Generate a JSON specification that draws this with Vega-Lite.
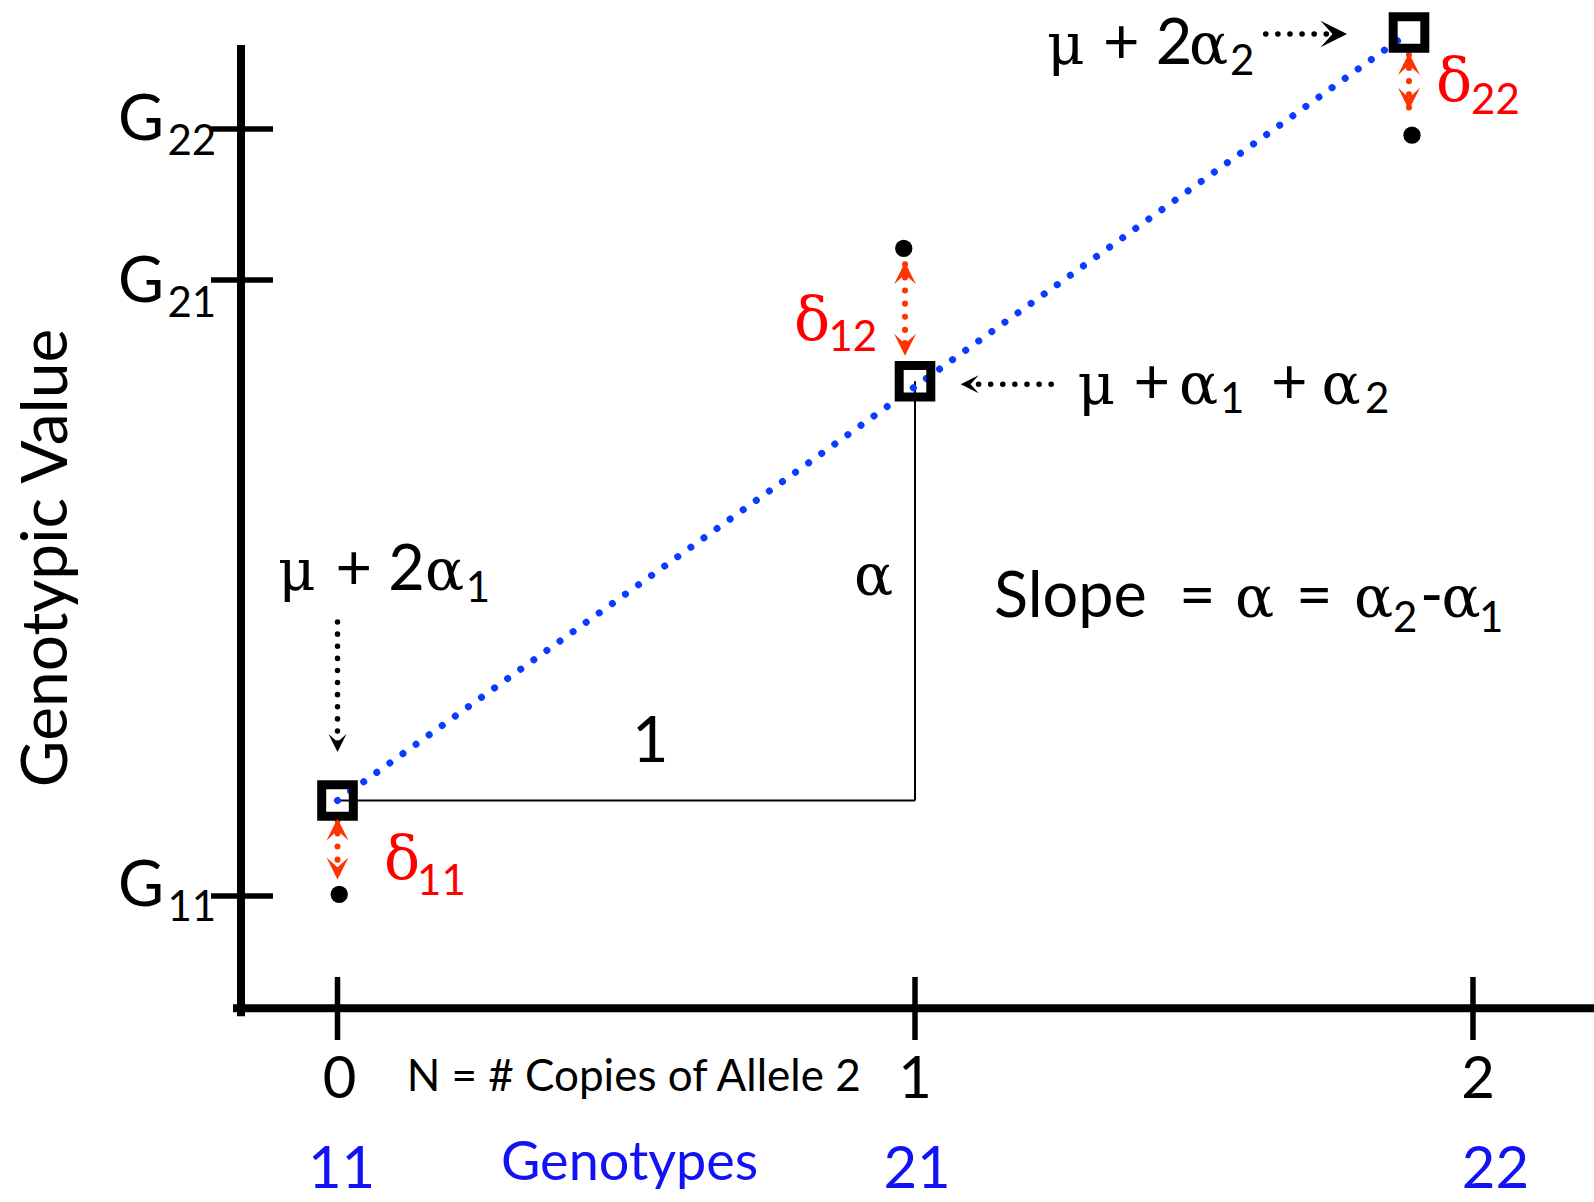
{
  "$schema": "https://vega.github.io/schema/vega-lite/v6.json",
  "width": 1594,
  "height": 1202,
  "autosize": {"type": "none"},
  "padding": 0,
  "background": "white",
  "config": {"view": {"stroke": null}},
  "datasets": {
    "axes": [
      {"x": -0.1671, "y": 9.593, "x2": -0.1671, "y2": -0.04},
      {"x": -0.174, "y": 0, "x2": 2.1758, "y2": 0}
    ],
    "ticks": [
      {"x": -0.219, "y": 8.793, "x2": -0.1117, "y2": 8.793},
      {"x": -0.219, "y": 7.283, "x2": -0.1117, "y2": 7.283},
      {"x": -0.219, "y": 1.123, "x2": -0.1117, "y2": 1.123},
      {"x": 0, "y": 0.313, "x2": 0, "y2": -0.317},
      {"x": 1, "y": 0.313, "x2": 1, "y2": -0.317},
      {"x": 1.9662, "y": 0.313, "x2": 1.9662, "y2": -0.317}
    ],
    "legs": [
      {"x": 0, "y": 2.078, "x2": 1, "y2": 2.078},
      {"x": 1, "y": 6.271, "x2": 1, "y2": 2.078}
    ],
    "fit": [
      {"x": 0, "y": 2.078, "x2": 1.8554, "y2": 9.758}
    ],
    "redShafts": [
      {"x": 0, "y": 1.88, "x2": 0, "y2": 1.31},
      {"x": 0.9827, "y": 7.44, "x2": 0.9827, "y2": 6.545},
      {"x": 1.8554, "y": 9.534, "x2": 1.8554, "y2": 9.005}
    ],
    "blackShafts": [
      {"x": 0, "y": 3.863, "x2": 0, "y2": 2.6},
      {"x": 1.2359, "y": 6.24, "x2": 1.09, "y2": 6.24},
      {"x": 1.6073, "y": 9.743, "x2": 1.72, "y2": 9.743}
    ],
    "squares": [
      {"x": 0, "y": 2.078},
      {"x": 1, "y": 6.271},
      {"x": 1.8554, "y": 9.758}
    ],
    "dots": [
      {"x": 0.003, "y": 1.14},
      {"x": 0.9805, "y": 7.6},
      {"x": 1.8606, "y": 8.731}
    ],
    "redUp": [
      {"x": 0, "y": 1.899},
      {"x": 0.9827, "y": 7.46},
      {"x": 1.8554, "y": 9.554}
    ],
    "redDown": [
      {"x": 0, "y": 1.289},
      {"x": 0.9827, "y": 6.525},
      {"x": 1.8554, "y": 8.985}
    ],
    "blackDown": [{"x": 0, "y": 2.563}],
    "blackLeft": [{"x": 1.0791, "y": 6.24}],
    "blackRight": [{"x": 1.7481, "y": 9.743}],
    "sans": [
      {"x": 1.3255, "y": 9.443, "t": "+ 2"},
      {"x": -0.00346, "y": 4.183, "t": "+ 2"},
      {"x": 1.3784, "y": 6.047, "t": "+"},
      {"x": 1.6165, "y": 6.047, "t": "+"},
      {"x": 1.1368, "y": 3.913, "t": "Slope"},
      {"x": 1.4571, "y": 3.913, "t": "="},
      {"x": 1.6597, "y": 3.913, "t": "="},
      {"x": 1.8745, "y": 3.913, "t": "-"},
      {"x": 0.50996, "y": 2.463, "t": "1"},
      {"x": -0.3801, "y": 8.683, "t": "G"},
      {"x": -0.3801, "y": 7.063, "t": "G"},
      {"x": -0.3801, "y": 1.023, "t": "G"}
    ],
    "subs": [
      {"x": 1.5455, "y": 9.333, "t": "2"},
      {"x": -0.2944, "y": 8.533, "t": "22"},
      {"x": -0.2944, "y": 6.913, "t": "21"},
      {"x": -0.2944, "y": 0.873, "t": "11"},
      {"x": 1.5281, "y": 5.953, "t": "1"},
      {"x": 1.7792, "y": 5.953, "t": "2"},
      {"x": 0.222, "y": 4.063, "t": "1"},
      {"x": 1.8277, "y": 3.763, "t": "2"},
      {"x": 1.9766, "y": 3.763, "t": "1"}
    ],
    "greek": [
      {"x": 1.2286, "y": 9.443, "t": "μ"},
      {"x": 1.4745, "y": 9.443, "t": "α"},
      {"x": -0.103, "y": 4.183, "t": "μ"},
      {"x": 0.1515, "y": 4.183, "t": "α"},
      {"x": 1.2816, "y": 6.047, "t": "μ"},
      {"x": 1.4571, "y": 6.047, "t": "α"},
      {"x": 1.7041, "y": 6.047, "t": "α"},
      {"x": 0.8944, "y": 4.136, "t": "α"},
      {"x": 1.5541, "y": 3.913, "t": "α"},
      {"x": 1.7602, "y": 3.913, "t": "α"},
      {"x": 1.9117, "y": 3.913, "t": "α"}
    ],
    "redDelta": [
      {"x": 1.9022, "y": 9.073, "t": "δ"},
      {"x": 0.7905, "y": 6.683, "t": "δ"},
      {"x": 0.0805, "y": 1.293, "t": "δ"}
    ],
    "redSubs": [
      {"x": 1.9628, "y": 8.943, "t": "22"},
      {"x": 0.8502, "y": 6.573, "t": "12"},
      {"x": 0.1377, "y": 1.137, "t": "11"}
    ],
    "tickLabels": [
      {"x": 0.00346, "y": -0.897, "t": "0"},
      {"x": 1, "y": -0.897, "t": "1"},
      {"x": 1.9749, "y": -0.897, "t": "2"}
    ],
    "nLabel": [{"x": 0.1197, "y": -0.827, "t": "N = # Copies of Allele 2"}],
    "genoNums": [
      {"x": 0.0071, "y": -1.8, "t": "11"},
      {"x": 1.0035, "y": -1.8, "t": "21"},
      {"x": 2.0052, "y": -1.8, "t": "22"}
    ],
    "genoLabel": [{"x": 0.2831, "y": -1.715, "t": "Genotypes"}],
    "yTitle": [{"x": -0.4684, "y": 4.503, "t": "Genotypic Value"}]
  },
  "encoding": {
    "x": {"field": "x", "type": "quantitative", "scale": {"domain": [-0.58442, 2.17576], "nice": false, "zero": false}, "axis": null},
    "y": {"field": "y", "type": "quantitative", "scale": {"domain": [-1.937, 10.083], "nice": false, "zero": false}, "axis": null}
  },
  "layer": [
    {"data": {"name": "axes"}, "mark": {"type": "rule", "strokeWidth": 8, "color": "black", "strokeCap": "square"},
     "encoding": {"x2": {"field": "x2"}, "y2": {"field": "y2"}}},
    {"data": {"name": "ticks"}, "mark": {"type": "rule", "strokeWidth": 5.5, "color": "black"},
     "encoding": {"x2": {"field": "x2"}, "y2": {"field": "y2"}}},
    {"data": {"name": "legs"}, "mark": {"type": "rule", "strokeWidth": 2, "color": "black"},
     "encoding": {"x2": {"field": "x2"}, "y2": {"field": "y2"}}},
    {"data": {"name": "fit"}, "mark": {"type": "rule", "strokeWidth": 7, "color": "#0a3cff", "strokeDash": [0.1, 16], "strokeCap": "round"},
     "encoding": {"x2": {"field": "x2"}, "y2": {"field": "y2"}}},
    {"data": {"name": "redShafts"}, "mark": {"type": "rule", "strokeWidth": 6, "color": "#ff3300", "strokeDash": [0.1, 13], "strokeCap": "round"},
     "encoding": {"x2": {"field": "x2"}, "y2": {"field": "y2"}}},
    {"data": {"name": "blackShafts"}, "mark": {"type": "rule", "strokeWidth": 5.5, "color": "black", "strokeDash": [0.1, 12], "strokeCap": "round"},
     "encoding": {"x2": {"field": "x2"}, "y2": {"field": "y2"}}},
    {"data": {"name": "squares"}, "mark": {"type": "point", "shape": "square", "size": 1000, "filled": false, "stroke": "black", "strokeWidth": 9, "opacity": 1}},
    {"data": {"name": "dots"}, "mark": {"type": "point", "shape": "circle", "size": 300, "filled": true, "color": "black", "opacity": 1}},
    {"data": {"name": "redUp"}, "mark": {"type": "point", "shape": "M-1,2L0,1.1L1,2L0,0Z", "size": 484, "filled": true, "color": "#ff3300", "opacity": 1}},
    {"data": {"name": "redDown"}, "mark": {"type": "point", "shape": "M-1,-2L0,-1.1L1,-2L0,0Z", "size": 484, "filled": true, "color": "#ff3300", "opacity": 1}},
    {"data": {"name": "blackDown"}, "mark": {"type": "point", "shape": "M-1,-2L0,-1.1L1,-2L0,0Z", "size": 324, "filled": true, "color": "black", "opacity": 1}},
    {"data": {"name": "blackLeft"}, "mark": {"type": "point", "shape": "M2,-1L1.1,0L2,1L0,0Z", "size": 324, "filled": true, "color": "black", "opacity": 1}},
    {"data": {"name": "blackRight"}, "mark": {"type": "point", "shape": "M-2,-1L-1.1,0L-2,1L0,0Z", "size": 700, "filled": true, "color": "black", "opacity": 1}},
    {"data": {"name": "sans"}, "mark": {"type": "text", "font": "Lato", "fontSize": 63, "align": "left", "baseline": "alphabetic", "color": "black"},
     "encoding": {"text": {"field": "t"}}},
    {"data": {"name": "subs"}, "mark": {"type": "text", "font": "Lato", "fontSize": 42, "align": "left", "baseline": "alphabetic", "color": "black"},
     "encoding": {"text": {"field": "t"}}},
    {"data": {"name": "greek"}, "mark": {"type": "text", "font": "DejaVu Serif", "fontSize": 58, "align": "left", "baseline": "alphabetic", "color": "black"},
     "encoding": {"text": {"field": "t"}}},
    {"data": {"name": "redDelta"}, "mark": {"type": "text", "font": "DejaVu Serif", "fontSize": 60, "align": "left", "baseline": "alphabetic", "color": "#ff0000"},
     "encoding": {"text": {"field": "t"}}},
    {"data": {"name": "redSubs"}, "mark": {"type": "text", "font": "Lato", "fontSize": 42, "align": "left", "baseline": "alphabetic", "color": "#ff0000"},
     "encoding": {"text": {"field": "t"}}},
    {"data": {"name": "tickLabels"}, "mark": {"type": "text", "font": "Lato", "fontSize": 58, "align": "center", "baseline": "alphabetic", "color": "black"},
     "encoding": {"text": {"field": "t"}}},
    {"data": {"name": "nLabel"}, "mark": {"type": "text", "font": "Lato", "fontSize": 44, "align": "left", "baseline": "alphabetic", "color": "black"},
     "encoding": {"text": {"field": "t"}}},
    {"data": {"name": "genoNums"}, "mark": {"type": "text", "font": "Lato", "fontSize": 58, "align": "center", "baseline": "alphabetic", "color": "#1212f5"},
     "encoding": {"text": {"field": "t"}}},
    {"data": {"name": "genoLabel"}, "mark": {"type": "text", "font": "Lato", "fontSize": 54, "align": "left", "baseline": "alphabetic", "color": "#1212f5"},
     "encoding": {"text": {"field": "t"}}},
    {"data": {"name": "yTitle"}, "mark": {"type": "text", "font": "Lato", "fontSize": 64, "align": "center", "baseline": "alphabetic", "angle": 270, "color": "black"},
     "encoding": {"text": {"field": "t"}}}
  ]
}
